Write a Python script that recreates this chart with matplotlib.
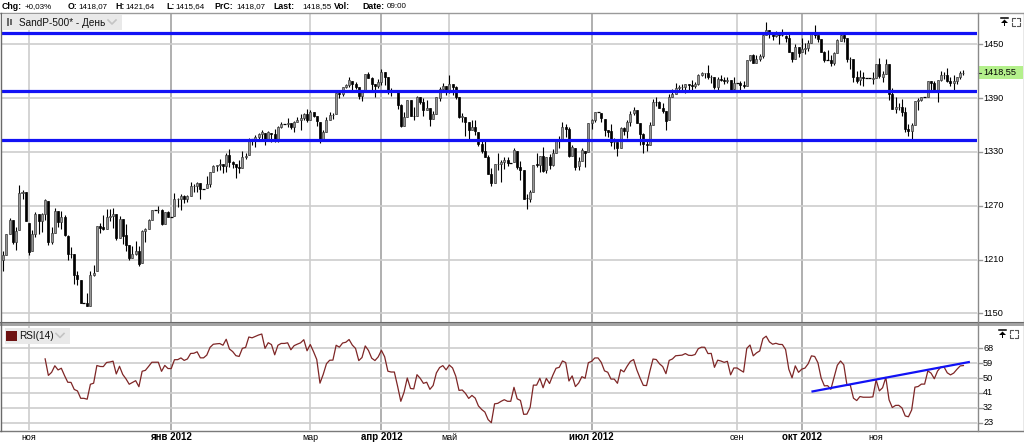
import numpy as np
import pandas as pd
import matplotlib
matplotlib.use("Agg")
import matplotlib.pyplot as plt
from matplotlib.lines import Line2D
from matplotlib.patches import Rectangle, Polygon
from matplotlib.transforms import blended_transform_factory

plt.rcParams['font.family'] = ['Liberation Sans', 'DejaVu Sans']

# ---------------- data (daily bars, every weekday; exchange holidays are flat bars) ----------------
start_date = "2011-10-20"
end_date = "2012-12-10"

opens = [
    1209.9,1215.4,1238.7,1254.2,1229.2,1243.0,1284.4,1285.0,
    1251.0,1219.0,1238.2,1260.8,1253.2,1261.1,1275.2,1229.6,1240.1,1263.9,1251.7,1257.8,1236.6,1216.2,1215.6,1193.0,1187.5,1161.8,1161.4,1158.7,1192.6,1196.7,
    1246.9,1246.0,1244.3,1257.2,1258.1,1260.9,1234.5,1255.1,1236.8,1225.7,1212.1,1216.1,1219.7,1205.7,1241.3,1243.7,1254.0,1265.3,1265.0,1265.4,1249.8,1262.8,
    1257.6,1258.9,1277.0,1277.3,1280.9,1277.8,1280.8,1292.0,1292.5,1294.8,1289.1,1290.2,1293.7,1308.1,1314.5,1315.3,1316.0,1314.4,1326.3,1318.3,1316.2,1313.5,
    1312.5,1324.2,1326.2,1344.3,1344.3,1347.0,1350.0,1351.2,1343.1,1351.3,1350.5,1342.6,1358.1,1361.2,1361.2,1362.1,1357.5,1363.5,1365.2,1367.6,1372.2,
    1365.9,1374.1,1369.6,1363.6,1343.4,1352.7,1366.0,1370.8,1371.9,1396.0,1394.2,1402.6,1404.2,1409.6,1405.5,1402.9,1392.8,1397.1,1416.6,1412.5,1405.4,1403.3,
    1408.5,1419.0,1413.1,1398.8,1398.1,1397.5,1382.2,1359.0,1368.8,1387.6,1370.3,1369.6,1390.8,1385.1,1377.0,1378.5,1367.0,1372.1,1390.6,1400.2,1403.3,
    1397.9,1405.5,1402.3,1391.5,1368.8,1369.2,1363.2,1354.6,1358.1,1351.9,1338.4,1330.8,1324.8,1305.1,1295.7,1316.1,1316.0,1318.7,1320.8,1317.8,1318.9,1331.3,1313.1,
    1309.9,1278.3,1277.8,1285.6,1316.1,1315.0,1325.7,1309.4,1324.0,1314.9,1329.2,1342.4,1344.8,1358.0,1355.4,1325.9,1334.9,1314.1,1320.0,1331.5,1330.1,
    1362.3,1365.8,1374.0,1373.7,1367.1,1354.7,1353.0,1341.4,1341.3,1334.8,1356.5,1353.7,1363.6,1373.0,1376.5,1362.3,1350.5,1338.4,1338.2,1360.1,1385.9,1385.3,
    1379.3,1375.1,1365.5,1391.0,1394.5,1400.9,1402.3,1402.6,1405.9,1404.4,1403.9,1405.6,1415.8,1417.9,1418.1,1413.1,1413.5,1402.0,1411.1,1410.4,1409.3,1410.1,1400.1,
    1406.6,1406.5,1404.9,1403.7,1432.1,1437.9,1429.1,1433.6,1436.6,1460.1,1465.4,1461.2,1459.5,1461.0,1460.3,1459.8,1456.9,1441.6,1433.4,1447.1,
    1440.9,1445.0,1446.1,1451.1,1461.4,1460.9,1455.9,1441.5,1432.8,1432.8,1428.8,1440.3,1454.2,1460.9,1457.3,1433.2,1433.7,1413.2,1409.7,1413.0,1411.9,1411.9,1411.0,
    1412.2,1427.6,1414.0,1417.3,1428.3,1394.5,1377.6,1379.9,1380.0,1374.6,1355.4,1353.4,1359.9,1386.8,1387.8,1391.0,1391.0,1409.0,1406.3,1398.8,1410.0,1416.0,
    1416.3,1409.5,1407.1,1409.4,1414.0,1418.07,
]

highs = [
    1219.4,1239.0,1256.5,1254.2,1246.3,1292.7,1287.0,1285.0,
    1251.0,1242.5,1263.2,1260.8,1261.7,1277.6,1275.2,1246.2,1267.0,1263.9,1264.3,1259.6,1237.7,1223.5,1215.6,1196.8,1187.5,1161.8,1172.7,1197.4,1203.7,1247.1,
    1251.1,1260.1,1266.7,1266.0,1267.1,1260.9,1258.3,1255.1,1249.9,1225.7,1225.6,1231.0,1224.6,1242.8,1245.1,1255.2,1265.4,1265.3,1269.4,1265.9,1263.5,1264.1,
    1257.6,1284.6,1278.7,1283.1,1281.8,1282.0,1296.5,1293.8,1296.8,1294.8,1289.1,1303.0,1308.1,1315.5,1315.4,1322.3,1316.0,1328.3,1333.5,1320.1,1316.2,1321.4,
    1330.5,1329.2,1345.3,1344.4,1349.2,1351.0,1354.3,1351.2,1353.4,1351.3,1355.9,1359.0,1363.4,1361.2,1367.8,1362.7,1364.2,1368.9,1371.9,1373.1,1378.0,
    1376.2,1374.5,1369.6,1363.6,1354.9,1368.7,1374.8,1373.0,1396.1,1399.4,1402.6,1405.9,1414.0,1409.6,1407.8,1402.9,1399.2,1416.6,1419.2,1413.7,1405.4,1410.9,
    1422.4,1419.0,1413.1,1401.6,1398.1,1397.5,1383.0,1374.7,1388.1,1387.6,1379.7,1392.8,1390.8,1390.5,1387.4,1378.5,1375.6,1391.4,1402.1,1406.6,1403.3,
    1415.3,1405.5,1403.1,1391.5,1373.9,1369.2,1363.7,1365.9,1365.7,1351.9,1344.9,1341.8,1326.4,1312.2,1316.4,1328.5,1320.7,1324.1,1324.2,1317.8,1334.9,1331.3,1319.7,
    1309.9,1282.6,1287.6,1315.1,1329.1,1325.8,1335.5,1324.3,1327.3,1333.7,1343.3,1348.2,1363.5,1361.6,1358.3,1337.8,1334.9,1324.2,1334.4,1331.5,1362.2,
    1366.4,1374.8,1374.0,1373.9,1367.1,1354.9,1361.5,1345.0,1341.3,1357.7,1357.3,1365.4,1375.3,1380.4,1376.5,1362.3,1351.5,1344.0,1363.1,1389.2,1391.7,1387.2,
    1385.0,1375.1,1394.2,1399.6,1407.1,1404.1,1406.0,1406.0,1405.9,1410.0,1407.7,1417.4,1418.7,1418.1,1426.7,1416.1,1413.5,1413.5,1416.2,1413.6,1414.0,1410.1,1413.1,
    1406.6,1409.3,1408.8,1432.1,1437.9,1438.7,1437.8,1439.2,1463.8,1474.5,1465.6,1461.5,1465.1,1461.2,1467.1,1460.7,1463.2,1441.6,1450.2,1447.1,
    1457.1,1451.5,1454.3,1463.1,1471.0,1460.9,1455.9,1442.5,1443.9,1438.4,1441.3,1455.5,1462.2,1464.0,1457.3,1435.5,1433.7,1420.0,1421.1,1418.8,1411.9,1411.9,1418.8,
    1428.4,1434.3,1419.9,1433.4,1428.3,1401.2,1391.4,1384.9,1388.8,1380.1,1360.6,1362.0,1386.9,1389.8,1391.3,1391.0,1409.2,1409.0,1409.0,1410.0,1419.7,1418.9,
    1423.7,1413.1,1415.6,1414.0,1420.3,1421.64,
]

lows = [
    1197.3,1215.4,1238.7,1226.8,1221.1,1243.0,1277.0,1253.2,
    1215.4,1219.0,1234.8,1238.9,1240.8,1254.0,1226.6,1227.7,1240.1,1246.7,1244.3,1235.7,1209.4,1211.4,1183.2,1181.7,1161.8,1161.8,1158.7,1158.7,1191.8,1196.7,
    1239.7,1243.4,1244.3,1253.0,1244.8,1231.5,1234.5,1227.3,1219.4,1209.5,1212.1,1215.2,1202.4,1205.7,1229.5,1243.7,1254.0,1265.3,1262.3,1248.6,1249.8,1257.5,
    1257.6,1258.9,1268.1,1265.3,1273.3,1274.6,1280.8,1285.4,1285.8,1277.6,1289.1,1290.2,1291.0,1308.1,1309.2,1309.9,1306.1,1307.7,1313.6,1311.7,1300.5,1306.7,
    1312.5,1321.6,1326.2,1337.5,1335.9,1342.0,1344.6,1337.4,1343.1,1340.8,1340.8,1341.2,1357.2,1361.2,1358.1,1355.5,1352.3,1363.5,1354.9,1366.0,1363.8,
    1365.9,1368.7,1359.1,1340.0,1343.4,1352.7,1365.9,1366.7,1371.9,1390.0,1392.8,1401.5,1402.4,1397.7,1400.6,1388.7,1386.9,1397.1,1412.0,1397.7,1391.6,1401.4,
    1404.5,1404.6,1394.1,1392.9,1398.1,1378.2,1357.4,1359.0,1368.8,1369.9,1365.4,1369.6,1383.3,1370.3,1377.0,1358.8,1366.8,1372.1,1387.3,1397.3,1394.0,
    1395.7,1393.9,1388.7,1368.0,1363.9,1347.8,1343.1,1354.6,1348.9,1336.6,1328.5,1324.8,1304.9,1292.0,1295.7,1310.0,1296.5,1310.5,1314.2,1317.8,1318.9,1310.8,1298.9,
    1277.3,1266.7,1274.2,1285.6,1312.7,1307.8,1307.7,1306.6,1310.5,1314.1,1329.2,1334.5,1344.8,1346.5,1324.4,1325.9,1309.3,1310.3,1320.0,1313.3,1330.1,
    1355.7,1363.5,1374.0,1363.0,1348.0,1346.7,1336.3,1333.2,1325.4,1334.8,1348.5,1345.1,1359.0,1371.2,1362.2,1337.6,1329.2,1331.5,1338.2,1360.1,1381.4,1379.2,
    1373.1,1354.6,1365.5,1391.0,1394.5,1396.6,1398.8,1395.6,1397.3,1398.6,1401.8,1404.2,1414.7,1412.1,1410.9,1406.8,1400.5,1398.0,1409.1,1405.6,1406.6,1397.0,1399.0,
    1406.6,1396.6,1401.3,1403.7,1431.4,1429.0,1429.1,1431.5,1434.8,1460.1,1457.5,1455.0,1457.9,1450.0,1459.5,1452.1,1441.6,1430.5,1433.4,1435.6,
    1440.9,1439.0,1442.0,1451.1,1456.9,1452.1,1441.2,1430.6,1432.3,1425.5,1427.2,1440.3,1453.3,1452.6,1429.9,1422.1,1407.6,1407.1,1405.1,1403.3,1411.9,1411.9,1406.0,
    1412.2,1412.9,1408.1,1417.3,1388.1,1377.5,1373.0,1377.2,1370.0,1352.5,1348.1,1343.4,1359.9,1377.0,1386.4,1391.0,1391.0,1397.7,1398.0,1385.4,1409.0,1411.6,
    1408.5,1403.7,1398.2,1405.9,1410.9,1415.64,
]

closes = [
    1215.4,1238.3,1254.2,1229.1,1242.0,1284.6,1285.1,1253.3,
    1218.3,1237.9,1261.2,1253.2,1261.1,1275.9,1229.1,1239.7,1263.9,1251.8,1257.8,1236.9,1216.1,1215.7,1193.0,1188.0,1161.8,1161.8,1158.7,1192.6,1195.2,1247.0,
    1244.6,1244.3,1257.1,1258.5,1261.0,1234.4,1255.2,1236.5,1225.7,1211.8,1215.8,1219.7,1205.4,1241.3,1243.7,1254.0,1265.3,1265.3,1265.4,1249.6,1263.0,1257.6,
    1257.6,1277.1,1277.3,1281.1,1277.8,1280.7,1292.1,1292.5,1295.5,1289.1,1289.1,1293.7,1308.0,1314.5,1315.4,1316.0,1314.7,1326.1,1318.4,1316.3,1313.0,1312.4,
    1324.1,1325.5,1344.9,1344.3,1347.1,1350.0,1352.0,1342.6,1351.8,1350.5,1343.2,1358.0,1361.2,1361.2,1362.2,1357.7,1363.5,1365.7,1367.6,1372.2,1365.7,
    1374.1,1369.6,1364.3,1343.4,1352.6,1365.9,1370.9,1371.1,1396.0,1394.3,1402.6,1404.2,1409.8,1405.5,1402.9,1392.8,1397.1,1416.5,1412.5,1405.5,1403.3,1408.5,
    1419.0,1413.4,1399.0,1398.1,1398.1,1382.2,1358.6,1368.7,1387.6,1370.3,1369.6,1390.8,1385.1,1376.9,1378.5,1366.9,1372.0,1390.7,1400.0,1403.4,1397.9,
    1405.8,1402.3,1391.6,1369.1,1369.6,1363.7,1354.6,1358.0,1353.4,1338.4,1330.7,1324.8,1304.9,1295.2,1316.0,1316.6,1318.9,1320.7,1317.8,1317.8,1332.4,1313.3,1310.3,
    1278.0,1278.2,1285.5,1315.1,1315.0,1325.7,1308.9,1324.2,1314.9,1329.1,1342.8,1344.8,1358.0,1355.7,1325.5,1335.0,1313.7,1320.0,1331.9,1329.0,1362.2,
    1365.5,1374.0,1374.0,1367.6,1354.7,1352.5,1341.5,1341.5,1334.8,1356.8,1353.6,1363.7,1372.8,1376.5,1362.7,1350.5,1338.3,1337.9,1360.0,1386.0,1385.3,1379.3,
    1375.3,1365.0,1391.0,1394.2,1401.4,1402.2,1402.8,1405.9,1404.1,1403.9,1405.5,1415.5,1418.2,1418.1,1413.2,1413.5,1402.1,1411.1,1410.4,1409.3,1410.5,1399.5,1406.6,
    1406.6,1404.9,1403.4,1432.1,1437.9,1429.1,1433.6,1436.6,1460.0,1465.8,1461.2,1459.3,1461.1,1460.3,1460.2,1456.9,1441.6,1433.3,1447.2,1440.7,
    1444.5,1445.8,1451.0,1461.4,1460.9,1455.9,1441.5,1432.6,1432.8,1428.6,1440.1,1454.9,1460.9,1457.3,1433.2,1433.8,1413.1,1408.8,1413.0,1411.9,1411.9,1411.9,1412.2,
    1427.6,1414.2,1417.3,1428.4,1394.5,1377.5,1379.9,1380.0,1374.5,1355.5,1353.3,1359.9,1386.9,1387.8,1391.0,1391.0,1409.2,1406.3,1398.9,1409.9,1416.0,1416.2,
    1409.5,1407.1,1409.3,1413.9,1418.1,1418.55,
]

support_levels = [1463, 1398, 1343]           # horizontal blue lines
rsi_trend_dates = ["2012-10-04", "2012-12-12"]  # blue trend line on RSI
rsi_trend_values = [41.8, 59.8]
rsi_period = 14

price_ticks = [1150, 1210, 1270, 1330, 1390, 1450]
rsi_ticks = [23, 32, 41, 50, 59, 68]
month_ticks = ["2011-11", "2012-01", "2012-03", "2012-04", "2012-05", "2012-07", "2012-09", "2012-10", "2012-11"]
month_labels = ["ноя", "янв 2012", "мар", "апр 2012", "май", "июл 2012", "сен", "окт 2012", "ноя"]
month_bold = [False, True, False, True, False, True, False, True, False]

header_keys = ["Chg:", "O:", "H:", "L:", "PrC:", "Last:", "Vol:", "Date:"]
header_vals = ["+0,03%", "1418,07", "1421,64", "1415,64", "1418,07", "1418,55", "", "09:00"]
series_title = "SandP-500* - День"
rsi_title = "RSI(14)"
last_price = 1418.55

# ---------------- geometry ----------------
W, H = 1024, 445
fig = plt.figure(figsize=(W / 100, H / 100), dpi=100)
fig.patch.set_facecolor("white")


def R(x0, y0, x1, y1):
    return [x0 / W, 1 - y1 / H, (x1 - x0) / W, (y1 - y0) / H]


def fline(x0, y0, x1, y1, **kw):
    fig.add_artist(Line2D([x0 / W, x1 / W], [1 - y0 / H, 1 - y1 / H], transform=fig.transFigure, **kw))


def frect(x0, y0, x1, y1, **kw):
    fig.add_artist(Rectangle((x0 / W, 1 - y1 / H), (x1 - x0) / W, (y1 - y0) / H,
                             transform=fig.transFigure, **kw))


def ftext(x, y, s, **kw):
    fig.text(x / W, 1 - y / H, s, **kw)


dates = pd.bdate_range(start_date, end_date)
n = len(dates)
assert len(opens) == n and len(highs) == n and len(lows) == n and len(closes) == n, \
    (n, len(opens), len(highs), len(lows), len(closes))
o = np.array(opens); h = np.array(highs); l = np.array(lows); c = np.array(closes)
xi = np.arange(n)

XL = (-0.65, 301.2)
ax = fig.add_axes(R(1, 14, 977, 322))
ax.set_xlim(*XL); ax.set_ylim(1140.3, 1483.8); ax.axis("off")
axr = fig.add_axes(R(1, 325, 977, 430))
axr.set_xlim(*XL); axr.set_ylim(18.6, 82.1); axr.axis("off")

GRID = "#cdcdcd"
GRID_DARK = "#a2a2a2"

# month positions
month_idx = []
for m in month_ticks:
    yy, mm = map(int, m.split("-"))
    month_idx.append(int(np.argmax((dates.year == yy) & (dates.month == mm))))

for a in (ax, axr):
    for mi, b in zip(month_idx, month_bold):
        a.axvline(mi, color=GRID_DARK if b else GRID, lw=1.2, zorder=1)

for p in price_ticks:
    ax.axhline(p, color=GRID, lw=1.2, zorder=1)
for r in rsi_ticks:
    axr.axhline(r, color=GRID, lw=1.2, zorder=1)

# candles
up = c > o
dn = c < o
flat = ~(up | dn)
ax.vlines(xi, l, h, color="black", lw=0.8, zorder=2)
ax.bar(xi[up], (c - o)[up], bottom=o[up], width=0.62, color="#969696",
       edgecolor="#3c3c3c", linewidth=0.5, zorder=3)
ax.bar(xi[dn], (o - c)[dn], bottom=c[dn], width=0.62, color="black",
       edgecolor="black", linewidth=0.5, zorder=3)
ax.hlines(c[flat], xi[flat] - 0.45, xi[flat] + 0.45, color="black", lw=0.9, zorder=3)

for lev in support_levels:
    ax.axhline(lev, color="#1212f5", lw=2.3, zorder=4)

# RSI (Wilder)
d = np.diff(c, prepend=c[0])
g = np.clip(d, 0, None); ls_ = np.clip(-d, 0, None)
rsi = np.full(n, np.nan)
ag = g[:rsi_period].mean(); al = ls_[:rsi_period].mean()
rsi[rsi_period - 1] = 100 - 100 / (1 + ag / al)
for i in range(rsi_period, n):
    ag = (ag * (rsi_period - 1) + g[i]) / rsi_period
    al = (al * (rsi_period - 1) + ls_[i]) / rsi_period
    rsi[i] = 100 - 100 / (1 + ag / al)
axr.plot(xi, rsi, color="#7e2626", lw=0.9, zorder=3)

t0 = pd.Timestamp(dates[0]).date()
tx = [np.busday_count(t0, pd.Timestamp(dd).date()) for dd in rsi_trend_dates]
axr.plot(tx, rsi_trend_values, color="#1212f5", lw=1.6, zorder=4, solid_capstyle="butt")

# right axis labels
for a, ticks in ((ax, price_ticks), (axr, rsi_ticks)):
    tr = blended_transform_factory(fig.transFigure, a.transData)
    for t in ticks:
        a.add_line(Line2D([977.5 / W, 981.5 / W], [t, t], transform=tr, color="#9a9a9a",
                          lw=1.0, clip_on=False))
        a.text(983 / W, t, f"{t:d}", transform=tr, fontsize=6.6, va="center",
               ha="left", color="black", clip_on=False)

# last price tag
trp = blended_transform_factory(fig.transFigure, ax.transData)
ax.add_patch(Rectangle((978 / W, last_price - 6.9), 45 / W, 13.8, transform=trp,
                       facecolor="#b4f08c", edgecolor="none", clip_on=False, zorder=5))
ax.text(983 / W, last_price, f"{last_price:.2f}".replace(".", ","), transform=trp,
        fontsize=6.6, va="center", ha="left", color="black", clip_on=False, zorder=6)
ax.add_line(Line2D([978 / W, 981 / W], [last_price, last_price], transform=trp,
                   color="#333333", lw=0.8, clip_on=False, zorder=6))

# ---------------- frame ----------------
fline(0, 12.5, 1024, 12.5, color="#9a9a9a", lw=1)
frect(0, 322, 1024, 325.5, facecolor="#a4a4a4", edgecolor="none")
fline(0, 322, 1024, 322, color="#6a6a6a", lw=0.8)
fline(0, 430.5, 1024, 430.5, color="#7a7a7a", lw=1)
fline(0.5, 12.5, 0.5, 430.5, color="#6a6a6a", lw=1)
fline(977.5, 12.5, 977.5, 430.5, color="#8a8a8a", lw=1)
fline(1023.5, 12.5, 1023.5, 430.5, color="#8a8a8a", lw=1)

# header
hx_keys = [2, 68, 115, 166, 214, 273, 334, 362]
hx_vals = [25, 78, 125, 175, 236, 302, 0, 387]
for k, v, xk, xv in zip(header_keys, header_vals, hx_keys, hx_vals):
    ftext(xk, 6.5, k, fontsize=6.3, fontweight="bold", va="center", ha="left")
    if v:
        ftext(xv, 6.5, v, fontsize=5.8, va="center", ha="left")

# series label box
frect(2, 14.5, 122, 30, facecolor="#e9e9e9", edgecolor="none", zorder=6)
frect(7, 18, 8.8, 26, facecolor="#6a6a6a", edgecolor="none", zorder=7)
frect(10.2, 19, 12, 25, facecolor="#6a6a6a", edgecolor="none", zorder=7)
ftext(19, 22.5, series_title, fontsize=7.2, va="center", ha="left", color="#111111", zorder=7)
fig.add_artist(Line2D([108 / W, 112 / W, 116 / W], [1 - 20 / H, 1 - 24 / H, 1 - 20 / H],
                      transform=fig.transFigure, color="#c4c4c4", lw=1.2, zorder=7))

# RSI label box
frect(5, 328, 70, 343.5, facecolor="#e9e9e9", edgecolor="none", zorder=6)
frect(6, 331, 17, 341, facecolor="#6e1212", edgecolor="none", zorder=7)
ftext(19.5, 336, rsi_title, fontsize=7.2, va="center", ha="left", color="#111111", zorder=7)
fig.add_artist(Line2D([56 / W, 60 / W, 64 / W], [1 - 333.5 / H, 1 - 337.5 / H, 1 - 333.5 / H],
                      transform=fig.transFigure, color="#c4c4c4", lw=1.2, zorder=7))


# small panel icons (top-right)
def icons(yt, x0):
    fline(x0, yt, x0 + 7, yt, color="black", lw=1.1)
    fig.add_artist(Polygon([((x0) / W, 1 - (yt + 5) / H), ((x0 + 7) / W, 1 - (yt + 5) / H),
                            ((x0 + 3.5) / W, 1 - (yt + 1.5) / H)], closed=True,
                           transform=fig.transFigure, facecolor="black", edgecolor="none"))
    frect(x0 + 2.6, yt + 5, x0 + 4.4, yt + 8, facecolor="black", edgecolor="none")
    ex = x0 + 11
    for (cx, cy, sx, sy) in ((ex, yt, 1, 1), (ex + 8, yt, -1, 1), (ex, yt + 8, 1, -1), (ex + 8, yt + 8, -1, -1)):
        fig.add_artist(Line2D([(cx + 3 * sx) / W, cx / W, cx / W],
                              [1 - cy / H, 1 - cy / H, 1 - (cy + 3 * sy) / H],
                              transform=fig.transFigure, color="#555555", lw=0.8))


icons(18, 1001)
icons(330, 999)

# bottom month labels
trx = blended_transform_factory(ax.transData, fig.transFigure)
for mi, lab, b in zip(month_idx, month_labels, month_bold):
    ax.text(mi, 1 - 437.5 / H, lab, transform=trx, fontsize=7 if b else 6.4,
            fontweight="bold" if b else "normal", ha="center", va="center", clip_on=False)

fig.savefig("out.png", dpi=100, facecolor="white")
